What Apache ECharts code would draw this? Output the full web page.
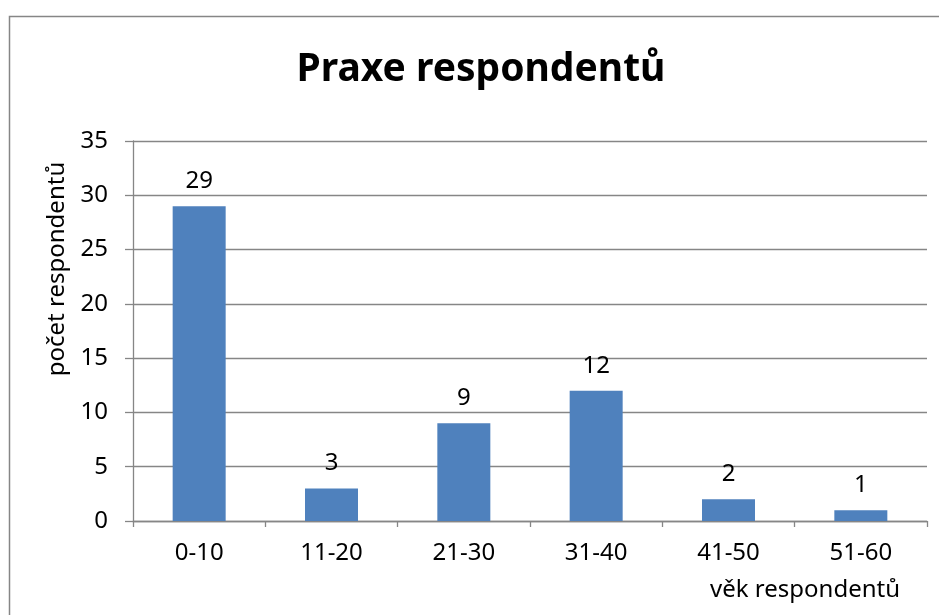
<!DOCTYPE html>
<html>
<head>
<meta charset="utf-8">
<script src="https://cdn.jsdelivr.net/npm/echarts@6/dist/echarts.min.js"></script>
<style>html,body{margin:0;padding:0;background:#fff}#c{width:939px;height:615px}</style>
</head>
<body>
<div id="c"></div>
<script>
const titleText = 'Praxe respondentů';
const categories = ['0-10', '11-20', '21-30', '31-40', '41-50', '51-60'];
const values = [29, 3, 9, 12, 2, 1];
const yTicks = { min: 0, max: 35, interval: 5 };
const xName = 'věk respondentů';
const yName = 'počet respondentů';

const font = '"Noto Sans", "Open Sans", sans-serif';
const chart = echarts.init(document.getElementById('c'), null, { renderer: 'canvas' });
chart.setOption({
  animation: false,
  backgroundColor: '#fff',
  title: {
    text: titleText,
    left: 481,
    textAlign: 'center',
    top: 50,
    padding: 0,
    textStyle: { fontFamily: font, fontWeight: 'bold', fontSize: 39, color: '#000' }
  },
  graphic: [{
    type: 'rect',
    shape: { x: 9.5, y: 16.5, width: 1000, height: 800 },
    style: { fill: 'none', stroke: '#868686', lineWidth: 1.5 },
    silent: true
  }],
  grid: { left: 133, right: 12, top: 141, bottom: 94, containLabel: false },
  xAxis: {
    type: 'category',
    data: categories,
    name: xName,
    nameLocation: 'end',
    nameGap: -27,
    nameTextStyle: { fontFamily: font, fontSize: 24, color: '#000', align: 'right', verticalAlign: 'top', padding: [57, 0, 0, 0] },
    axisLine: { lineStyle: { color: '#868686', width: 1.3 } },
    axisTick: { show: true, length: 6, alignWithLabel: false, lineStyle: { color: '#868686', width: 1.3 } },
    axisLabel: { fontFamily: font, fontSize: 24, color: '#000', margin: 20 }
  },
  yAxis: {
    type: 'value',
    min: yTicks.min,
    max: yTicks.max,
    interval: yTicks.interval,
    name: yName,
    nameLocation: 'middle',
    nameGap: 62,
    nameRotate: 90,
    nameTextStyle: { fontFamily: font, fontSize: 24, color: '#000', padding: [0, 0, 0, 124] },
    axisLine: { show: true, lineStyle: { color: '#868686', width: 1.3 } },
    axisTick: { show: true, length: 8, lineStyle: { color: '#868686', width: 1.3 } },
    axisLabel: { fontFamily: font, fontSize: 24, color: '#000', margin: 25 },
    splitLine: { show: true, lineStyle: { color: '#868686', width: 1.3 } }
  },
  series: [{
    type: 'bar',
    data: values,
    barWidth: 53,
    itemStyle: { color: '#4F81BD' },
    label: { show: true, position: 'top', distance: 13, fontFamily: font, fontSize: 24, color: '#000' }
  }]
});
</script>
</body>
</html>
